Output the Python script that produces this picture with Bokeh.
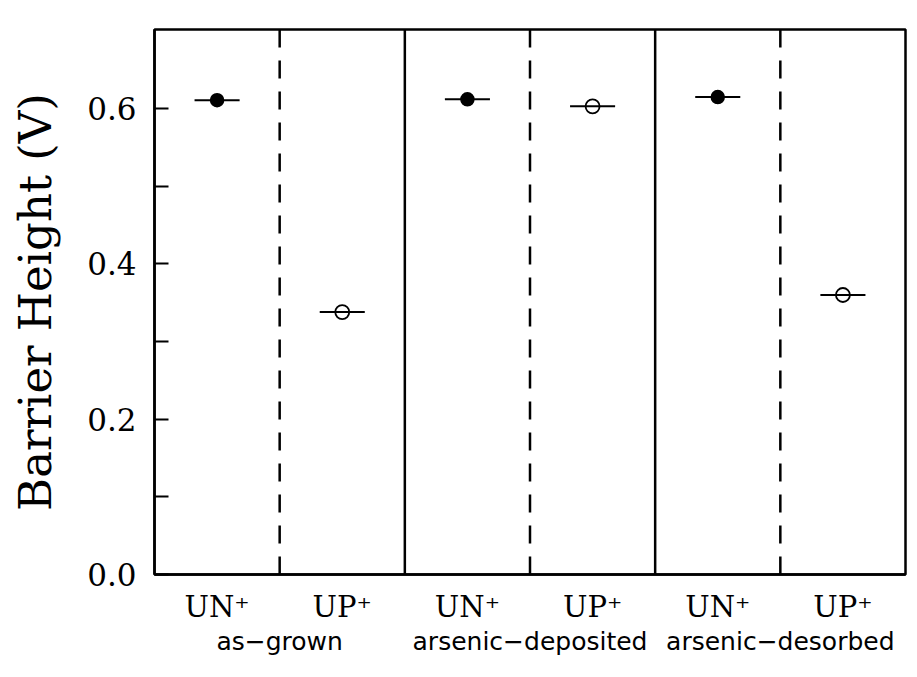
from bokeh.plotting import figure
from bokeh.models import Range1d, FixedTicker, LinearAxis, Span, NumeralTickFormatter
from bokeh.embed import file_html
from bokeh.resources import INLINE

# ---- data ----
cat_positions = [0.5, 1.5, 2.5, 3.5, 4.5, 5.5]
cat_labels = ["UN⁺", "UP⁺", "UN⁺", "UP⁺", "UN⁺", "UP⁺"]
group_positions = [1, 3, 5]
group_labels = ["as−grown", "arsenic−deposited", "arsenic−desorbed"]
un_x = [0.5, 2.5, 4.5]
un_values = [0.611, 0.612, 0.615]
up_x = [1.5, 3.5, 5.5]
up_values = [0.338, 0.603, 0.360]
bar_half = 0.18
solid_separators = [2, 4]
dashed_separators = [1, 3, 5]
y_major = [0.0, 0.2, 0.4, 0.6]
y_minor = [0.1, 0.3, 0.5]

p = figure(width=909, height=669, x_range=Range1d(0, 6), y_range=Range1d(0, 0.702),
           output_backend="svg", toolbar_location=None,
           min_border_left=154, min_border_right=4, min_border_top=29, min_border_bottom=95)
p.grid.visible = False
p.outline_line_color = "black"
p.outline_line_width = 2.5
p.background_fill_color = "white"
p.border_fill_color = "white"

# x axis (categories)
xa = p.xaxis[0]
xa.ticker = FixedTicker(ticks=cat_positions)
xa.major_label_overrides = {pos: lab for pos, lab in zip(cat_positions, cat_labels)}
xa.major_tick_line_color = None
xa.minor_tick_line_color = None
xa.axis_line_width = 2.5
xa.axis_line_color = "black"
xa.major_label_text_font = "DejaVu Serif"
xa.major_label_text_font_size = "29px"
xa.major_label_text_color = "black"
xa.major_label_standoff = 9

# group axis
ga = LinearAxis(ticker=FixedTicker(ticks=group_positions),
                major_label_overrides={pos: lab for pos, lab in zip(group_positions, group_labels)})
ga.axis_line_color = None
ga.major_tick_line_color = None
ga.minor_tick_line_color = None
ga.major_label_text_font = "DejaVu Sans"
ga.major_label_text_font_size = "25px"
ga.major_label_text_color = "black"
ga.major_label_standoff = -6
p.add_layout(ga, "below")

# y axis
ya = p.yaxis[0]
ya.ticker = FixedTicker(ticks=y_major, minor_ticks=y_minor)
ya.formatter = NumeralTickFormatter(format="0.0")
ya.major_tick_in = 14
ya.major_tick_out = 0
ya.minor_tick_in = 14
ya.minor_tick_out = 0
ya.major_tick_line_width = 2
ya.minor_tick_line_width = 2
ya.major_tick_line_color = "black"
ya.minor_tick_line_color = "black"
ya.axis_line_width = 2.5
ya.axis_line_color = "black"
ya.major_label_text_font = "DejaVu Serif"
ya.major_label_text_font_size = "31px"
ya.major_label_text_color = "black"
ya.major_label_standoff = 18
ya.axis_label = "Barrier Height (V)"
ya.axis_label_text_font = "DejaVu Serif"
ya.axis_label_text_font_size = "45px"
ya.axis_label_text_font_style = "normal"
ya.axis_label_text_color = "black"
ya.axis_label_standoff = 22

# separators
for s in solid_separators:
    p.add_layout(Span(location=s, dimension="height", line_color="black", line_width=2.5))
for s in dashed_separators:
    p.add_layout(Span(location=s, dimension="height", line_color="black", line_width=2.5,
                      line_dash="18 13"))

# horizontal bars through points
p.segment(x0=[x - bar_half for x in un_x], x1=[x + bar_half for x in un_x],
          y0=un_values, y1=un_values, line_color="black", line_width=2)
p.segment(x0=[x - bar_half for x in up_x], x1=[x + bar_half for x in up_x],
          y0=up_values, y1=up_values, line_color="black", line_width=2)

p.scatter(x=un_x, y=un_values, size=13, marker="circle",
          fill_color="black", line_color="black", line_width=1.5)
p.scatter(x=up_x, y=up_values, size=14, marker="circle",
          fill_color=None, line_color="black", line_width=1.8)

open("out.html", "w").write(file_html(p, INLINE))
